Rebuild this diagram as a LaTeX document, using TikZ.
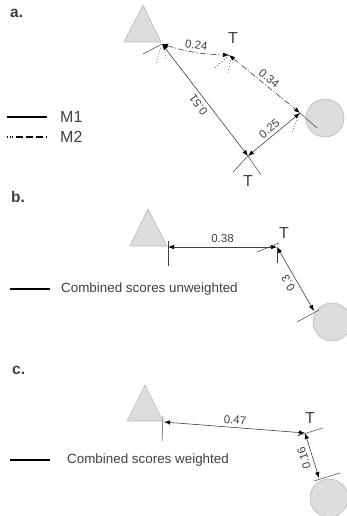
\documentclass[tikz,border=0pt]{standalone}
\usepackage{fontspec}
\setmainfont{Liberation Sans}
\usetikzlibrary{positioning, calc, arrows.meta}
\definecolor{inkgray}{RGB}{64, 64, 64}
\definecolor{shapefill}{RGB}{221, 221, 221}
\definecolor{shapeline}{RGB}{185, 185, 185}

\begin{document}
\begin{tikzpicture}[x=1pt, y=-1pt, every node/.style={text=inkgray, inner sep=1pt}]
    \tikzstyle{tri} = [draw=shapeline, fill=shapefill, line width=0.6pt]
    \tikzstyle{blob} = [circle, draw=shapeline, fill=shapefill, minimum size=38pt, inner sep=0pt, line width=0.6pt]
    \tikzstyle{measure} = [draw=inkgray, line width=0.6pt, {Latex[length=6pt, width=4.5pt, black]}-{Latex[length=6pt, width=4.5pt, black]}]
    \tikzstyle{measuredash} = [measure, dash pattern=on 6pt off 2pt on 1pt off 2pt]
    \tikzstyle{tick} = [draw=inkgray, line width=0.5pt]
    \tikzstyle{tickdot} = [tick, dash pattern=on 1pt off 2pt]
    \tikzstyle{dist} = [font=\fontsize{11.5}{12}\selectfont]
    \tikzstyle{tlabel} = [font=\fontsize{16}{17}\selectfont]
    \tikzstyle{panel} = [font=\fontsize{15.5}{17}\selectfont\bfseries, anchor=west]
    \tikzstyle{legend} = [font=\fontsize{13.4}{14}\selectfont, anchor=west]

    \useasboundingbox (0,0) rectangle (346,516);

    % Panel a
    \node[panel] (lab-a) at (9,13) {a.};
    \draw[tri] (143,5) -- (161,42) -- (124,42) -- cycle;
    \node[blob] (circ-a) at (325,118) {};
    \coordinate (a-src) at (162,44);
    \coordinate (a-top) at (229,55);
    \coordinate (a-bot) at (248,156);
    \coordinate (a-end) at (300,113);
    \node[tlabel] (t-a1) at (233,38) {T};
    \node[tlabel] (t-a2) at (248,181) {T};

    \draw[measuredash] (a-src) to[bend right=8] node[dist, midway, sloped, above=2pt] {0.24} (a-top);
    \draw[measuredash] (a-top) -- node[dist, midway, sloped, above=2pt] {0.34} (a-end);
    \draw[measure] (a-bot) -- node[dist, midway, sloped, allow upside down, above=3pt] {0.51} (a-src);
    \draw[measure] (a-bot) -- node[dist, midway, sloped, above=2pt] {0.25} (a-end);

    \draw[tick] (143,54) -- (a-src);
    \draw[tickdot] (156,63) -- (161,47);
    \draw[tickdot] (166,59) -- (164,48);
    \draw[tickdot] (215,68) -- (a-top);
    \draw[tickdot] (228,73) -- (231,58);
    \draw[tick] (a-end) -- (317,128);
    \draw[tickdot] (292,132) -- (a-end);
    \draw[tick] (a-bot) -- (233,172);
    \draw[tick] (a-bot) -- (261,175);

    % Legend a
    \coordinate (m1-l) at (7,117);
    \coordinate (m1-r) at (47,117);
    \coordinate (m2-l) at (7,137);
    \coordinate (m2-r) at (47,137);
    \draw[line width=1.6pt] (m1-l) -- (m1-r);
    \draw[line width=1.6pt, dash pattern=on 1pt off 1.5pt on 1pt off 1.5pt on 1pt off 3pt on 7pt off 3pt on 7pt off 3pt on 7pt off 3pt] (m2-l) -- (m2-r);
    \node[legend, font=\fontsize{16}{17}\selectfont] (m1) at (59,117) {M1};
    \node[legend, font=\fontsize{16}{17}\selectfont] (m2) at (59,137) {M2};

    % Panel b
    \node[panel] (lab-b) at (10,197) {b.};
    \draw[tri] (148,209) -- (167,246) -- (130,246) -- cycle;
    \node[blob] (circ-b) at (332,322) {};
    \coordinate (b-src) at (168,247);
    \coordinate (b-mid) at (277,247);
    \coordinate (b-end) at (314,311);
    \node[tlabel] (t-b) at (284,233) {T};

    \draw[measure] (b-src) -- node[dist, midway, above=3pt] {0.38} (b-mid);
    \draw[measure] (b-end) -- node[dist, midway, sloped, allow upside down, above=3pt] {0.3} (b-mid);

    \draw[tick] (168,241) -- (168,266);
    \draw[tick] (257,252) -- (279,243);
    \draw[tick] (b-mid) -- (277,263);
    \draw[tick] (297,322) -- (319,310);

    \coordinate (cb-l) at (10,289);
    \coordinate (cb-r) at (50,289);
    \draw[line width=1.6pt] (cb-l) -- (cb-r);
    \node[legend] (leg-b) at (60,289) {Combined scores unweighted};

    % Panel c
    \node[panel] (lab-c) at (11,370) {c.};
    \draw[tri] (145,385) -- (163,421) -- (127,421) -- cycle;
    \node[blob] (circ-c) at (329,498) {};
    \coordinate (c-src) at (164,422);
    \coordinate (c-mid) at (305,433);
    \coordinate (c-end) at (319,478);
    \node[tlabel] (t-c) at (310,418) {T};

    \draw[measure] (c-src) -- node[dist, midway, sloped, above=2pt] {0.47} (c-mid);
    \draw[measure] (c-end) -- node[dist, midway, sloped, allow upside down, above=3pt] {0.16} (c-mid);

    \draw[tick] (163,416) -- (162,441);
    \draw[tick] (297,436) -- (323,428);
    \draw[tick] (314,481) -- (340,473);

    \coordinate (cc-l) at (10,460);
    \coordinate (cc-r) at (50,460);
    \draw[line width=1.6pt] (cc-l) -- (cc-r);
    \node[legend] (leg-c) at (66,460) {Combined scores weighted};
\end{tikzpicture}
\end{document}
